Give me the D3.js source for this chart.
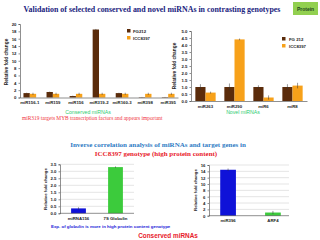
<!DOCTYPE html>
<html>
<head>
<meta charset="utf-8">
<script src="https://cdn.jsdelivr.net/npm/d3@7"></script>
<style>
  html, body { margin: 0; padding: 0; background: #fff; }
  svg { display: block; }
  .tk text { font-family: "Liberation Sans", Arial, sans-serif; font-size: 4.3px; font-weight: bold; fill: #222; }
  .tk path, .tk line { stroke: #444; stroke-width: 0.6; }
</style>
</head>
<body>
<svg id="c" width="320" height="240"></svg>
<script>
// ---- data ----
const conservedCats = ['miR156-1', 'miR159', 'miR156', 'miR319-2', 'miR160-3', 'miR398', 'miR395'];
const conservedFG   = [1.2, 1.5, 0.4, 18.5, 1.2, 0.1, 0.1];
const conservedFGErr = [0.1, 0.1, 0.1, 0.15, 0.1, 0.05, 0.05];
const conservedICC  = [1.0, 1.0, 1.0, 1.0, 1.0, 1.0, 1.0];
const conservedICCErr = [0.3, 0.3, 0.3, 0.3, 0.3, 0.3, 0.3];
const conservedTicks = [0, 2, 4, 6, 8, 10, 12, 14, 16, 18, 20];

const novelCats = ['miR263', 'miR290', 'miR6', 'miR8'];
const novelFG   = [1.0, 1.0, 1.0, 1.0];
const novelFGErr = [0.2, 0.25, 0.12, 0.2];
const novelICC  = [0.6, 4.4, 0.25, 1.1];
const novelICCErr = [0.07, 0.06, 0.15, 0.2];
const novelTicks = [0, 0.5, 1, 1.5, 2, 2.5, 3, 3.5, 4, 4.5, 5];

const globCats = ['miRNA156', '7S Globulin'];
const globVals = [0.35, 3.3];
const globErr  = [0.08, 0.05];
const globTicks = [0, 0.5, 1, 1.5, 2, 2.5, 3, 3.5];

const arfCats = ['miR396', 'ARF4'];
const arfVals = [14.5, 1.0];
const arfErr  = [0.4, 0.5];
const arfTicks = [0, 2, 4, 6, 8, 10, 12, 14, 16];

const BROWN = '#5b2c0b', ORANGE = '#f7a11a', BLUE = '#0f12d8', GREEN = '#3ccb3c';
const svg = d3.select('#c');

function txt(x, y, s, o) {
  const t = svg.append('text').attr('x', x).attr('y', y).text(s)
    .attr('font-family', o.family || '"Liberation Sans", Arial, sans-serif')
    .attr('font-size', o.size).attr('fill', o.fill)
    .attr('font-weight', o.weight || 'normal')
    .attr('text-anchor', o.anchor || 'middle');
  if (o.rotate) t.attr('transform', `rotate(-90,${x},${y})`);
  return t;
}

function errBar(g, cx, top, err, w) {
  g.append('line').attr('x1', cx).attr('x2', cx).attr('y1', top[0]).attr('y2', top[1])
    .attr('stroke', '#333').attr('stroke-width', 0.5);
  [top[0], top[1]].forEach(yy => g.append('line').attr('x1', cx - w).attr('x2', cx + w)
    .attr('y1', yy).attr('y2', yy).attr('stroke', '#333').attr('stroke-width', 0.5));
}

// grouped chart (two series)
function grouped(opt) {
  const x = d3.scaleBand().domain(opt.cats).range(opt.xr).paddingInner(opt.pi).paddingOuter(opt.po);
  const x1 = d3.scaleBand().domain([0, 1]).range([0, x.bandwidth()]);
  const y = d3.scaleLinear().domain([0, opt.max]).range(opt.yr);
  const g = svg.append('g');
  const series = [[opt.a, opt.aErr, BROWN], [opt.b, opt.bErr, ORANGE]];
  series.forEach(([vals, errs, col], si) => {
    opt.cats.forEach((c, i) => {
      const bx = x(c) + x1(si);
      g.append('rect').attr('x', bx).attr('y', y(vals[i]))
        .attr('width', x1.bandwidth()).attr('height', y(0) - y(vals[i])).attr('fill', col);
      errBar(g, bx + x1.bandwidth() / 2, [y(vals[i] + errs[i]), y(Math.max(0, vals[i] - errs[i]))], 0.8);
    });
  });
  svg.append('g').attr('class', 'tk').attr('transform', `translate(${opt.xr[0]},0)`)
    .call(d3.axisLeft(y).tickValues(opt.ticks).tickSize(1.5).tickPadding(2));
  svg.append('g').attr('class', 'tk').attr('transform', `translate(0,${opt.yr[0]})`)
    .call(d3.axisBottom(x).tickSize(0).tickPadding(3.5));
  return { x, y };
}

// single series chart with gridlines
function single(opt) {
  const x = d3.scaleBand().domain(opt.cats).range(opt.xr).paddingInner(opt.pi).paddingOuter(opt.po);
  const y = d3.scaleLinear().domain([0, opt.max]).range(opt.yr);
  const g = svg.append('g');
  g.selectAll('line.grid').data(opt.ticks.slice(1)).join('line')
    .attr('x1', opt.xr[0]).attr('x2', opt.gridEnd).attr('y1', d => y(d)).attr('y2', d => y(d))
    .attr('stroke', '#c8c8c8').attr('stroke-width', 0.5);
  opt.cats.forEach((c, i) => {
    g.append('rect').attr('x', x(c)).attr('y', y(opt.vals[i]))
      .attr('width', x.bandwidth()).attr('height', y(0) - y(opt.vals[i])).attr('fill', opt.colors[i]);
    errBar(g, x(c) + x.bandwidth() / 2, [y(opt.vals[i] + opt.err[i]), y(opt.vals[i] - opt.err[i])], 0.8);
  });
  svg.append('g').attr('class', 'tk').attr('transform', `translate(${opt.xr[0]},0)`)
    .call(d3.axisLeft(y).tickValues(opt.ticks).tickSize(1.5).tickPadding(2));
  const xa = svg.append('g').attr('class', 'tk').attr('transform', `translate(0,${opt.yr[0]})`)
    .call(d3.axisBottom(x).tickSize(0).tickPadding(3.5));
  xa.select('.domain').attr('d', `M${opt.xr[0]},0H${opt.gridEnd}`);
}

// ---- header ----
txt(152, 12, 'Validation of selected conserved and novel miRNAs in contrasting genotypes',
  { family: '"Liberation Serif", "Times New Roman", serif', size: 7.9, fill: '#1a237e', weight: 'bold' });
svg.append('rect').attr('x', 293).attr('y', 2).attr('width', 25).attr('height', 13).attr('fill', '#92d050');
txt(305.5, 11, 'Protein', { size: 5, fill: '#1e4620', weight: 'bold' });

// ---- chart 1: conserved ----
grouped({ cats: conservedCats, a: conservedFG, aErr: conservedFGErr, b: conservedICC, bErr: conservedICCErr,
  ticks: conservedTicks, max: 20, xr: [20, 178], yr: [97.5, 24], pi: 0.45, po: 0.15 });
txt(8, 62, 'Relative fold change', { size: 4.8, fill: '#222', weight: 'bold', rotate: true });
svg.append('rect').attr('x', 127).attr('y', 29).attr('width', 3.5).attr('height', 3.5).attr('fill', BROWN);
txt(133, 32.5, 'FG212', { size: 4.3, fill: '#222', weight: 'bold', anchor: 'start' });
svg.append('rect').attr('x', 127).attr('y', 36).attr('width', 3.5).attr('height', 3.5).attr('fill', ORANGE);
txt(133, 39.5, 'ICC8397', { size: 4.3, fill: '#222', weight: 'bold', anchor: 'start' });
txt(88, 114, 'Conserved miRNAs', { size: 5.2, fill: '#2ecc71' });
txt(22, 120, 'miR319 targets MYB transcription factors and appears important',
  { family: '"Liberation Serif", "Times New Roman", serif', size: 5.4, fill: '#f0303a', anchor: 'start' });

// ---- chart 2: novel ----
grouped({ cats: novelCats, a: novelFG, aErr: novelFGErr, b: novelICC, bErr: novelICCErr,
  ticks: novelTicks, max: 5, xr: [191, 307], yr: [101, 31], pi: 0.3, po: 0.15 });
txt(176, 66, 'Relative fold change', { size: 4.8, fill: '#222', weight: 'bold', rotate: true });
svg.append('rect').attr('x', 282).attr('y', 37).attr('width', 3.5).attr('height', 3.5).attr('fill', BROWN);
txt(289, 40.5, 'FG 212', { size: 4.3, fill: '#222', weight: 'bold', anchor: 'start' });
svg.append('rect').attr('x', 282).attr('y', 44).attr('width', 3.5).attr('height', 3.5).attr('fill', ORANGE);
txt(289, 47.5, 'ICC8397', { size: 4.3, fill: '#222', weight: 'bold', anchor: 'start' });
txt(243, 114, 'Novel miRNAs', { size: 5.2, fill: '#2ecc71' });

// ---- middle titles ----
txt(158, 147, 'Inverse correlation analysis of miRNAs and target genes in',
  { family: '"Liberation Serif", "Times New Roman", serif', size: 7, fill: '#2e7bc4', weight: 'bold' });
txt(156, 156, 'ICC8397 genotype (high protein content)',
  { family: '"Liberation Serif", "Times New Roman", serif', size: 7, fill: '#e8202a', weight: 'bold' });

// ---- chart 3: globulin ----
single({ cats: globCats, vals: globVals, err: globErr, colors: [BLUE, GREEN], ticks: globTicks, max: 3.5,
  xr: [60, 134], gridEnd: 134, yr: [213.3, 164.3], pi: 0.6, po: 0.3 });
txt(47, 189, 'Relative fold change', { size: 4.3, fill: '#222', weight: 'bold', rotate: true });
txt(51, 228, 'Exp. of globulin is more in high protein content  genotype',
  { size: 4.4, fill: '#1a1ad8', weight: 'bold', anchor: 'start' });
txt(168, 238, 'Conserved miRNAs', { size: 6.4, fill: '#e8202a', weight: 'bold' });

// ---- chart 4: ARF4 ----
single({ cats: arfCats, vals: arfVals, err: arfErr, colors: [BLUE, GREEN], ticks: arfTicks, max: 16,
  xr: [209, 292], gridEnd: 289, yr: [215.7, 165], pi: 0.65, po: 0.25 });
txt(197, 190, 'Relative fold change', { size: 4.3, fill: '#222', weight: 'bold', rotate: true });
</script>
</body>
</html>
